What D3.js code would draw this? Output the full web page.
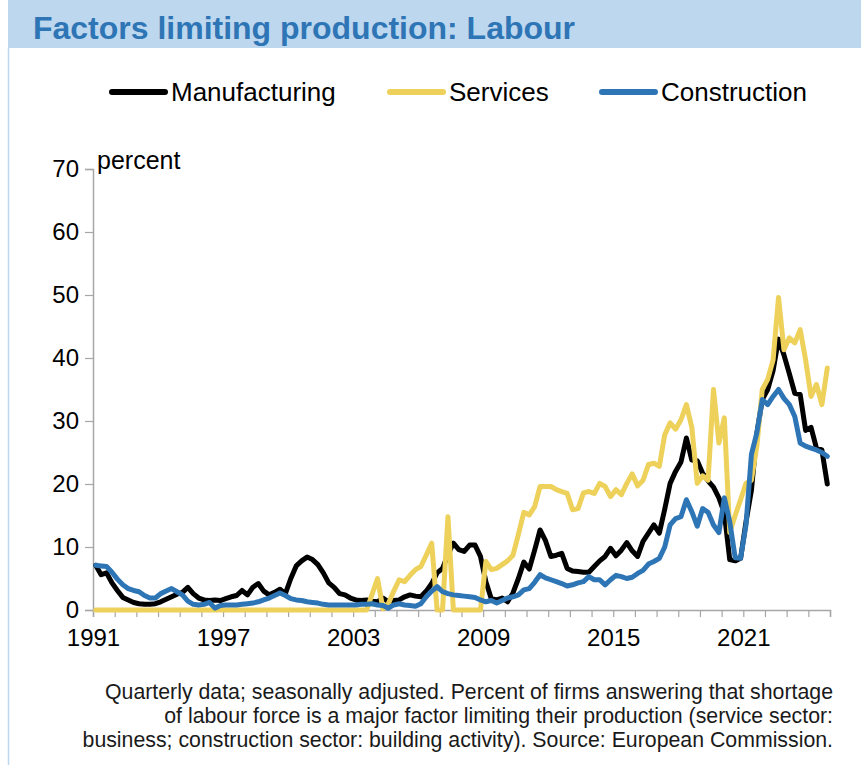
<!DOCTYPE html>
<html>
<head>
<meta charset="utf-8">
<script src="https://cdn.jsdelivr.net/npm/d3@7"></script>
<style>
  body { margin: 0; background: #fff; }
  svg { display: block; font-family: "Liberation Sans", Arial, sans-serif; }
</style>
</head>
<body>
<div id="chart"></div>
<script>
var width = 861;
var height = 765;

// quarterly data, 1991Q1 .. 2024Q4 (one row per year)
var startYear = 1991;
var endYear = 2025;
var tickYears = [1991, 1997, 2003, 2009, 2015, 2021];
var yTicks = [0, 10, 20, 30, 40, 50, 60, 70];

var manufacturing = [
  7.1, 5.6, 5.9, 4.3,
  3.1, 2.0, 1.6, 1.2,
  1.0, 0.9, 0.9, 1.0,
  1.3, 1.7, 2.1, 2.5,
  2.8, 3.6, 2.6, 1.9,
  1.6, 1.5, 1.6, 1.5,
  1.8, 2.1, 2.3, 3.1,
  2.4, 3.6, 4.2, 3.0,
  2.4, 2.8, 3.3, 2.6,
  5.0, 7.0, 7.8, 8.4,
  8.0, 7.2, 5.9, 4.3,
  3.6, 2.6, 2.4, 1.9,
  1.6, 1.5, 1.6, 1.4,
  1.3, 1.9, 1.3, 1.5,
  1.6, 2.1, 2.4, 2.2,
  2.1, 3.0, 4.2, 5.9,
  6.6, 8.8, 10.6, 9.6,
  9.3, 10.3, 10.3, 8.5,
  4.5, 1.8, 1.6, 1.9,
  1.3, 2.7, 5.0, 7.6,
  6.5, 9.5, 12.7, 11.0,
  8.5, 8.7, 9.0, 6.6,
  6.2, 6.1, 6.0, 6.0,
  6.9, 7.8, 8.5, 9.8,
  8.6, 9.5, 10.7, 9.4,
  8.5, 10.9, 12.2, 13.5,
  12.2, 16.0, 20.1, 22.0,
  23.5, 27.3, 23.8, 23.7,
  21.7, 20.5, 19.5, 17.8,
  15.4, 8.0, 7.8, 8.2,
  14.0, 19.0, 28.0, 33.4,
  35.0, 38.0, 43.0, 40.5,
  37.5, 34.4, 34.2, 28.5,
  29.0, 25.7, 25.4, 20.0
];

var services = [
  0, 0, 0, 0,
  0, 0, 0, 0,
  0, 0, 0, 0,
  0, 0, 0, 0,
  0, 0, 0, 0,
  0, 0, 0, 0,
  0, 0, 0, 0,
  0, 0, 0, 0,
  0, 0, 0, 0,
  0, 0, 0, 0,
  0, 0, 0, 0,
  0, 0, 0, 0,
  0, 0, 0, 2.5,
  5.0, 0.2, 1.0, 3.0,
  4.8, 4.5, 5.5, 6.4,
  6.9, 8.7, 10.6, 0,
  0, 14.8, 0, 0,
  0, 0, 0, 0,
  7.7, 6.4, 6.6, 7.2,
  7.8, 8.7, 12.0, 15.5,
  15.1, 16.4, 19.6, 19.6,
  19.6, 19.1, 18.8, 18.5,
  15.9, 16.1, 18.6, 18.8,
  18.5, 20.1, 19.6, 18.0,
  19.1, 18.3, 20.1, 21.6,
  19.7, 20.6, 23.1, 23.3,
  22.8, 27.8, 29.7, 28.7,
  30.2, 32.6, 29.0, 20.1,
  21.3, 20.6, 35.0, 26.5,
  30.5, 12.3, 15.0, 17.5,
  20.1, 20.6, 26.0, 35.0,
  36.6, 39.7, 49.6, 41.3,
  43.2, 42.4, 44.5, 39.7,
  33.9, 35.8, 32.6, 38.4
];

var construction = [
  7.1, 7.0, 6.9, 6.0,
  4.9, 4.0, 3.4, 3.1,
  2.9, 2.3, 1.9, 1.9,
  2.6, 3.0, 3.4, 2.9,
  2.4, 1.4, 0.9, 0.8,
  0.9, 1.2, 0.3, 0.7,
  0.8, 0.8, 0.8, 0.9,
  1.0, 1.1, 1.3, 1.6,
  1.9, 2.3, 2.7, 2.3,
  1.8, 1.6, 1.5, 1.3,
  1.2, 1.1, 0.9, 0.8,
  0.8, 0.8, 0.8, 0.8,
  0.8, 0.9, 0.9, 1.0,
  0.8, 0.7, 0.3, 0.8,
  1.0, 0.8, 0.7, 0.6,
  1.0, 2.1, 3.0, 3.7,
  2.9, 2.6, 2.4, 2.3,
  2.2, 2.1, 2.0, 1.6,
  1.3, 1.5, 1.1, 1.5,
  1.9, 2.1, 2.4, 3.2,
  3.4, 4.4, 5.6, 5.1,
  4.8, 4.5, 4.2, 3.8,
  4.0, 4.3, 4.5, 5.3,
  4.8, 4.8, 4.0, 4.8,
  5.5, 5.3, 5.0, 5.2,
  5.8, 6.3, 7.3, 7.7,
  8.2, 10.0, 13.5, 14.5,
  14.8, 17.5, 15.6, 13.3,
  16.1, 15.5, 13.5, 12.3,
  17.8, 14.0, 8.3, 8.2,
  13.5, 24.7, 28.1, 33.4,
  32.6, 33.9, 35.0, 33.6,
  32.6, 30.7, 26.5, 26.0,
  25.7, 25.4, 25.0, 24.4
];

var seriesNames = ['Manufacturing', 'Services', 'Construction'];
var seriesColors = ['#000000', '#eed15a', '#2e75b6'];
var seriesValues = [manufacturing, services, construction];

// quarters sit in the middle of their quarter on the date axis
var quarterTimes = manufacturing.map(function(d, i) {
  return startYear + (i + 0.5) / 4;
});

var notes = [
  'Quarterly data; seasonally adjusted. Percent of firms answering that shortage',
  'of labour force is a major factor limiting their production (service sector:',
  'business; construction sector: building activity). Source: European Commission.'
];

var svg = d3.select('#chart')
  .append('svg')
  .attr('width', width)
  .attr('height', height);

// title band
svg.append('rect')
  .attr('x', 8)
  .attr('y', 0)
  .attr('width', width - 8)
  .attr('height', 48)
  .attr('fill', '#bdd7ee');

svg.append('line')
  .attr('x1', 8.5).attr('x2', 8.5)
  .attr('y1', 48).attr('y2', height)
  .attr('stroke', '#bdd7ee')
  .attr('stroke-width', 1.5);

svg.append('text')
  .attr('x', 33)
  .attr('y', 39)
  .attr('fill', '#2e75b6')
  .attr('font-size', 31.5)
  .attr('font-weight', 'bold')
  .attr('textLength', 542)
  .attr('lengthAdjust', 'spacingAndGlyphs')
  .text('Factors limiting production: Labour');

// scales
var x = d3.scaleLinear().domain([startYear, endYear]).range([93, 830]);
var y = d3.scaleLinear().domain([0, 70]).range([610, 169]);

// y axis
var yAxis = svg.append('g')
  .attr('transform', 'translate(93,0)')
  .call(d3.axisLeft(y).tickValues(yTicks).tickSize(8).tickPadding(6));
yAxis.select('.domain').attr('stroke', '#a6a6a6').attr('stroke-width', 1.5);
yAxis.selectAll('.tick line').attr('stroke', '#a6a6a6').attr('stroke-width', 1.2);
yAxis.selectAll('.tick text')
  .attr('font-size', 24)
  .attr('fill', '#000')
  .attr('font-family', '"Liberation Sans", Arial, sans-serif');

// x axis: a tick every year, labels every six years
var allYears = d3.range(startYear, endYear + 1);
var xAxis = svg.append('g')
  .attr('transform', 'translate(0,610)')
  .call(d3.axisBottom(x)
    .tickValues(allYears)
    .tickSize(7)
    .tickPadding(12)
    .tickFormat(function(d) { return tickYears.indexOf(d) >= 0 ? String(d) : ''; }));
xAxis.select('.domain').attr('stroke', '#a6a6a6').attr('stroke-width', 1.5);
xAxis.selectAll('.tick line').attr('stroke', '#a6a6a6').attr('stroke-width', 1.2);
xAxis.selectAll('.tick text')
  .attr('font-size', 24)
  .attr('fill', '#000')
  .attr('font-family', '"Liberation Sans", Arial, sans-serif');

svg.append('text')
  .attr('x', 97)
  .attr('y', 169)
  .attr('font-size', 25)
  .text('percent');

// lines
var line = d3.line()
  .x(function(d, i) { return x(quarterTimes[i]); })
  .y(function(d) { return y(d); });

svg.append('g')
  .selectAll('path')
  .data(seriesValues)
  .enter()
  .append('path')
  .attr('d', line)
  .attr('fill', 'none')
  .attr('stroke', function(d, i) { return seriesColors[i]; })
  .attr('stroke-width', 5)
  .attr('stroke-linejoin', 'round')
  .attr('stroke-linecap', 'round');

// legend
var legendX = [112, 390, 602];
var legend = svg.append('g')
  .selectAll('g')
  .data(seriesNames)
  .enter()
  .append('g')
  .attr('transform', function(d, i) { return 'translate(' + legendX[i] + ',92)'; });

legend.append('line')
  .attr('x1', 0).attr('x2', 53)
  .attr('stroke', function(d, i) { return seriesColors[i]; })
  .attr('stroke-width', 6)
  .attr('stroke-linecap', 'round');

legend.append('text')
  .attr('x', 59)
  .attr('y', 9)
  .attr('font-size', 26)
  .text(function(d) { return d; });

// footnote
svg.append('g')
  .selectAll('text')
  .data(notes)
  .enter()
  .append('text')
  .attr('x', 833)
  .attr('y', function(d, i) { return 699 + i * 24; })
  .attr('text-anchor', 'end')
  .attr('font-size', 21.3)
  .attr('fill', '#1a1a1a')
  .text(function(d) { return d; });
</script>
</body>
</html>
